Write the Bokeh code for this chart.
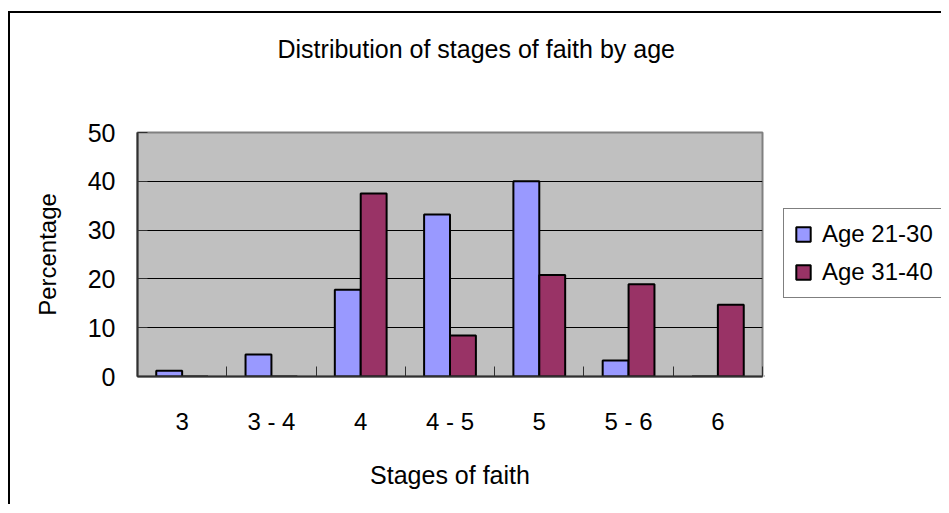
import numpy as np
from bokeh.plotting import figure
from bokeh.layouts import row
from bokeh.models import ColumnDataSource, FixedTicker, Legend, LegendItem, Range1d, Title
from bokeh.embed import file_html
from bokeh.resources import INLINE

categories = ["3", "3 - 4", "4", "4 - 5", "5", "5 - 6", "6"]
age_21_30 = [1.2, 4.5, 17.8, 33.2, 40.0, 3.3, 0.0]
age_31_40 = [0.0, 0.0, 37.5, 8.4, 20.8, 18.9, 14.7]
series_names = ["Age 21-30", "Age 31-40"]
series_colors = ["#9999FF", "#993366"]
y_ticks = [0, 10, 20, 30, 40, 50]
title_text = "Distribution of stages of faith by age"

FONT = "Liberation Sans"
BAR_W = 0.29

idx = np.arange(len(categories))
centers = idx + 0.5
bounds = list(np.arange(len(categories) + 1).astype(float))

src = ColumnDataSource(dict(
    xb=centers - BAR_W / 2, xr=centers + BAR_W / 2,
    a=age_21_30, b=age_31_40))

p = figure(width=754, height=491, output_backend="svg", toolbar_location=None,
           x_range=Range1d(0, len(categories)), y_range=Range1d(0, 50),
           min_border_left=127, min_border_right=2, min_border_top=119,
           min_border_bottom=128)

p.background_fill_color = "#C0C0C0"
p.border_fill_color = "white"
p.outline_line_color = "#808080"
p.outline_line_width = 2

p.vbar(x="xb", top="a", width=BAR_W, source=src, fill_color=series_colors[0],
       line_color="black", line_width=2)
p.vbar(x="xr", top="b", width=BAR_W, source=src, fill_color=series_colors[1],
       line_color="black", line_width=2)

# axes
p.xaxis.ticker = FixedTicker(ticks=list(centers), minor_ticks=bounds)
p.xaxis.major_label_overrides = {float(c): lab for c, lab in zip(centers, categories)}
p.xaxis.major_tick_in = 0
p.xaxis.major_tick_out = 0
p.xaxis.minor_tick_in = 10
p.xaxis.minor_tick_out = 0
p.xaxis.minor_tick_line_color = "#303030"
p.xaxis.minor_tick_line_width = 1
p.xaxis.axis_line_color = "#303030"
p.xaxis.axis_line_width = 2
p.xaxis.major_label_text_font = FONT
p.xaxis.major_label_text_font_size = "24px"
p.xaxis.major_label_text_color = "black"
p.xaxis.major_label_standoff = 31
p.xaxis.axis_label = "Stages of faith"
p.xaxis.axis_label_text_font = FONT
p.xaxis.axis_label_text_font_size = "25px"
p.xaxis.axis_label_text_font_style = "normal"
p.xaxis.axis_label_text_color = "black"
p.xaxis.axis_label_standoff = 23

p.yaxis.ticker = FixedTicker(ticks=y_ticks)
p.yaxis.major_tick_in = 10
p.yaxis.major_tick_out = 0
p.yaxis.major_tick_line_color = "#303030"
p.yaxis.minor_tick_line_color = None
p.yaxis.axis_line_color = "#303030"
p.yaxis.axis_line_width = 2
p.yaxis.major_label_text_font = FONT
p.yaxis.major_label_text_font_size = "25px"
p.yaxis.major_label_text_color = "black"
p.yaxis.major_label_standoff = 22
p.yaxis.axis_label = "Percentage"
p.yaxis.axis_label_text_font = FONT
p.yaxis.axis_label_text_font_size = "24px"
p.yaxis.axis_label_text_font_style = "normal"
p.yaxis.axis_label_text_color = "black"
p.yaxis.axis_label_standoff = 24

p.xgrid.grid_line_color = None
p.ygrid.grid_line_color = "black"
p.ygrid.grid_line_width = 1

# title: the real title outermost, a blank spacer title next to the frame
p.title = Title(text=title_text, align="left", vertical_align="top",
                offset=140, standoff=42, text_font=FONT,
                text_font_size="25px", text_font_style="normal",
                text_color="black")
p.add_layout(Title(text=" ", standoff=17, text_font=FONT,
                   text_font_size="25px"), "above")

# legend panel (second figure to the right of the plot)
p2 = figure(width=177, height=491, output_backend="svg", toolbar_location=None,
            x_range=Range1d(0, 1), y_range=Range1d(0, 1), min_border=0)
p2.axis.visible = False
p2.grid.visible = False
p2.outline_line_color = None
p2.background_fill_color = "white"
p2.border_fill_color = "white"
# placeholder bars outside the visible range, only used for the legend swatches
dummy = ColumnDataSource(dict(x=[-1.0], top=[0.0]))
items = []
for name, col in zip(series_names, series_colors):
    r = p2.vbar(x="x", top="top", width=0.1, source=dummy, fill_color=col,
                line_color="black", line_width=2)
    items.append(LegendItem(label=name, renderers=[r]))

legend = Legend(items=items, location=(19, 78), margin=0, padding=10, spacing=8,
                label_height=30, glyph_width=18, glyph_height=18,
                label_standoff=10, label_text_font=FONT,
                label_text_font_size="24px", label_text_color="black",
                border_line_color="black", border_line_width=1,
                background_fill_color="white", background_fill_alpha=1.0)
p2.add_layout(legend, "center")

lay = row(p, p2)
lay.styles = {"border-top": "2px solid black", "border-left": "2px solid black",
              "margin-left": "8px", "margin-top": "11px"}

open("out.html", "w").write(file_html(lay, INLINE))
